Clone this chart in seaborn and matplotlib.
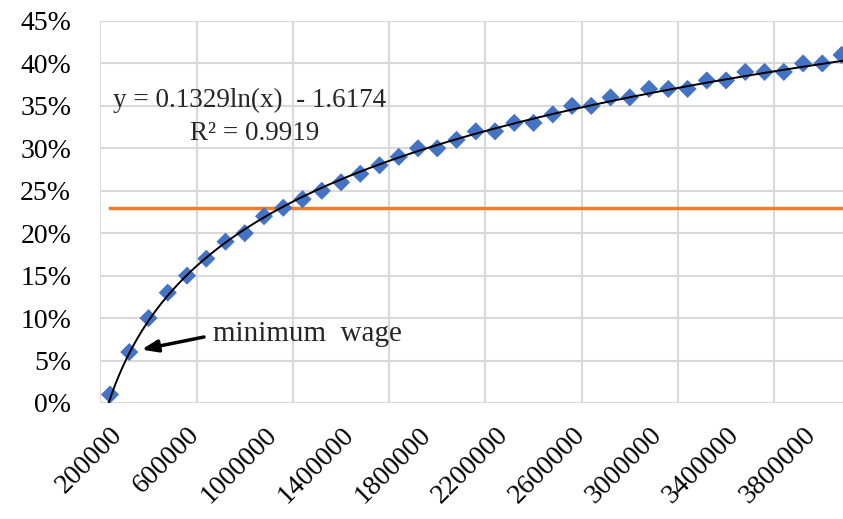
import numpy as np
import pandas as pd
import matplotlib
matplotlib.use("Agg")
import matplotlib.pyplot as plt
import seaborn as sns
from matplotlib.ticker import FixedLocator, FuncFormatter

# Monthly income levels and the share reached at each level
income = list(range(200000, 4000001, 100000))
share_pct = [1, 6, 10, 13, 15, 17, 19, 20, 22, 23, 24, 25, 26, 27, 28, 29, 30, 30,
             31, 32, 32, 33, 33, 34, 35, 35, 36, 36, 37, 37, 37, 38, 38, 39, 39, 39,
             40, 40, 41]
reference_level = 23  # percent, horizontal reference line

# Logarithmic trend: y = a*ln(x) + b
trend_a = 0.1329
trend_b = -1.6174
r_squared = 0.9919

tick_values = list(range(200000, 3800001, 400000))
grid_values = list(range(150000, 4050001, 500000))

df = pd.DataFrame({"income": income, "share": np.array(share_pct) / 100.0})

sns.set_theme(style="white")
plt.rcParams["font.family"] = ["Liberation Serif", "DejaVu Serif"]

W, H = 843, 519
fig = plt.figure(figsize=(W / 100, H / 100), dpi=100)
left_px, right_px, top_px, bottom_px = 100.4, 851.2, 21, 403
ax = fig.add_axes([left_px / W, 1 - bottom_px / H,
                   (right_px - left_px) / W, (bottom_px - top_px) / H])

ax.set_xlim(150000, 4050000)
ax.set_ylim(0, 0.45)

# gridlines
grid_kw = dict(color="#d9d9d9", lw=1.5, zorder=0)
for g in grid_values:
    ax.axvline(g, **grid_kw)
for yv in np.arange(0, 0.451, 0.05):
    ax.axhline(yv, **grid_kw)

# reference line
ax.plot([income[0], income[-1]], [reference_level / 100] * 2,
        color="#ED7D31", lw=2.5, solid_capstyle="projecting", zorder=2)

# data points
sns.scatterplot(data=df, x="income", y="share", marker="D", s=85,
                color="#4472C4", edgecolor="none", ax=ax, zorder=3,
                legend=False)

# trend curve
xs = np.linspace(185000, 4050000, 800)
ys = trend_a * np.log(xs) + trend_b
ax.plot(xs, ys, color="black", lw=1.4, zorder=4)

for s in ax.spines.values():
    s.set_visible(False)

ax.xaxis.set_major_locator(FixedLocator(tick_values))
ax.xaxis.set_major_formatter(FuncFormatter(lambda v, p: f"{int(v)}"))
ax.yaxis.set_major_locator(FixedLocator(np.arange(0, 0.451, 0.05)))
ax.yaxis.set_major_formatter(FuncFormatter(lambda v, p: f"{v * 100:.0f}%"))
ax.tick_params(axis="both", length=0, labelsize=20, colors="black")
ax.tick_params(axis="y", pad=21)
ax.tick_params(axis="x", pad=14)
for lbl in ax.get_xticklabels():
    lbl.set_rotation(45)
    lbl.set_ha("right")
    lbl.set_va("top")
    lbl.set_rotation_mode("anchor")
ax.set_xlabel("")
ax.set_ylabel("")

# trend equation
fig.text(113 / W, 1 - 100 / H, f"y = {trend_a}ln(x)  - {abs(trend_b)}",
         fontsize=19.5, ha="left", va="center")
fig.text(190 / W, 1 - 133 / H, f"R² = {r_squared}",
         fontsize=19.5, ha="left", va="center")

# annotation for minimum wage point
fig.text(213 / W, 1 - 334 / H, "minimum  wage", fontsize=21,
         ha="left", va="center")
ax.annotate("", xy=(income[1], share_pct[1] / 100),
            xytext=(204 / W, 1 - 337 / H), textcoords="figure fraction",
            arrowprops=dict(arrowstyle="-|>,head_length=0.8,head_width=0.3",
                            color="black", lw=2.5, shrinkA=0, shrinkB=9))

fig.savefig("out.png", dpi=100)
